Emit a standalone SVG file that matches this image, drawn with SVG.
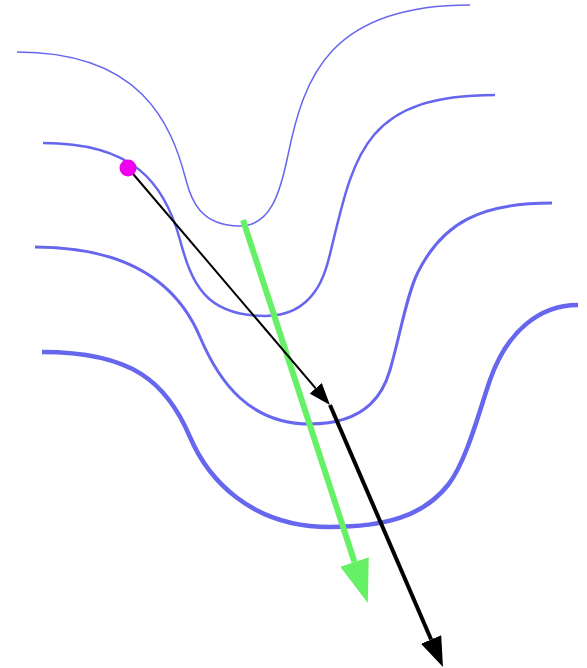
<svg xmlns="http://www.w3.org/2000/svg" width="587" height="668" viewBox="0 0 587 668">
  <style>
    .level { fill: none; stroke: #6666ee; stroke-linecap: butt; stroke-linejoin: round; }
  </style>
  <defs>
    <marker id="head-green" markerUnits="userSpaceOnUse" viewBox="0 -15 43 30" refX="0" refY="0" markerWidth="43" markerHeight="30" orient="auto">
      <path d="M0,-15 L43,0 L0,15 Z" fill="#66f066"/>
    </marker>
    <marker id="head-thin" markerUnits="userSpaceOnUse" viewBox="0 -8 22 16" refX="0" refY="0" markerWidth="22" markerHeight="16" orient="auto">
      <path d="M0,-8 L22,0 L0,8 Z" fill="#000"/>
    </marker>
    <marker id="head-thick" markerUnits="userSpaceOnUse" viewBox="0 -11 30 22" refX="0" refY="0" markerWidth="30" markerHeight="22" orient="auto">
      <path d="M0,-11 L30,0 L0,11 Z" fill="#000"/>
    </marker>
  </defs>
  <rect width="587" height="668" fill="#fff"/>
  <g id="level-curves">
    <path id="curve1" class="level" stroke-width="1.5" d="M17,52 C140,52 171,121.8 186,180 C191,199.4 200,226 240,226 C270,226 280,194.2 288,155 C304,76.6 330,5 470,5"/>
    <path id="curve2" class="level" stroke-width="2.5" d="M43,143 C133,143 164.4,182.4 180,240 C191.7,283.2 205,316 265,316 C315,316 325.2,274.25 331,250 C354.3,153 365,95 495,95"/>
    <path id="curve3" class="level" stroke-width="3" d="M35,247 C125,247 176.6,281.8 200,337 C219.5,383 250,424 310,424 C370,424 384.4,389.2 390,370 C399.8,336.4 406.75,294.25 418,272 C442.75,223 480,203 552,203"/>
    <path id="curve4" class="level" stroke-width="4.5" d="M42,352 C132,352 166.6,381.8 190,437 C207.6,478.4 250,527 330,527 C385,527 423.2,516.2 448,485 C466.6,461.6 480.1,408.2 490,380 C506.5,333 538,305 578,305"/>
  </g>
  <g id="connectors">
    <line id="green-arrow" x1="243" y1="220" x2="354.5" y2="562" stroke="#66f066" stroke-width="6" marker-end="url(#head-green)"/>
    <line id="thin-arrow" x1="128" y1="168" x2="315.7" y2="388.3" stroke="#000" stroke-width="2" marker-end="url(#head-thin)"/>
    <line id="thick-arrow" x1="330" y1="405" x2="431.1" y2="639.5" stroke="#000" stroke-width="4" marker-end="url(#head-thick)"/>
  </g>
  <g id="point">
    <circle cx="128" cy="168" r="8.5" fill="#ee00ee"/>
  </g>
</svg>
